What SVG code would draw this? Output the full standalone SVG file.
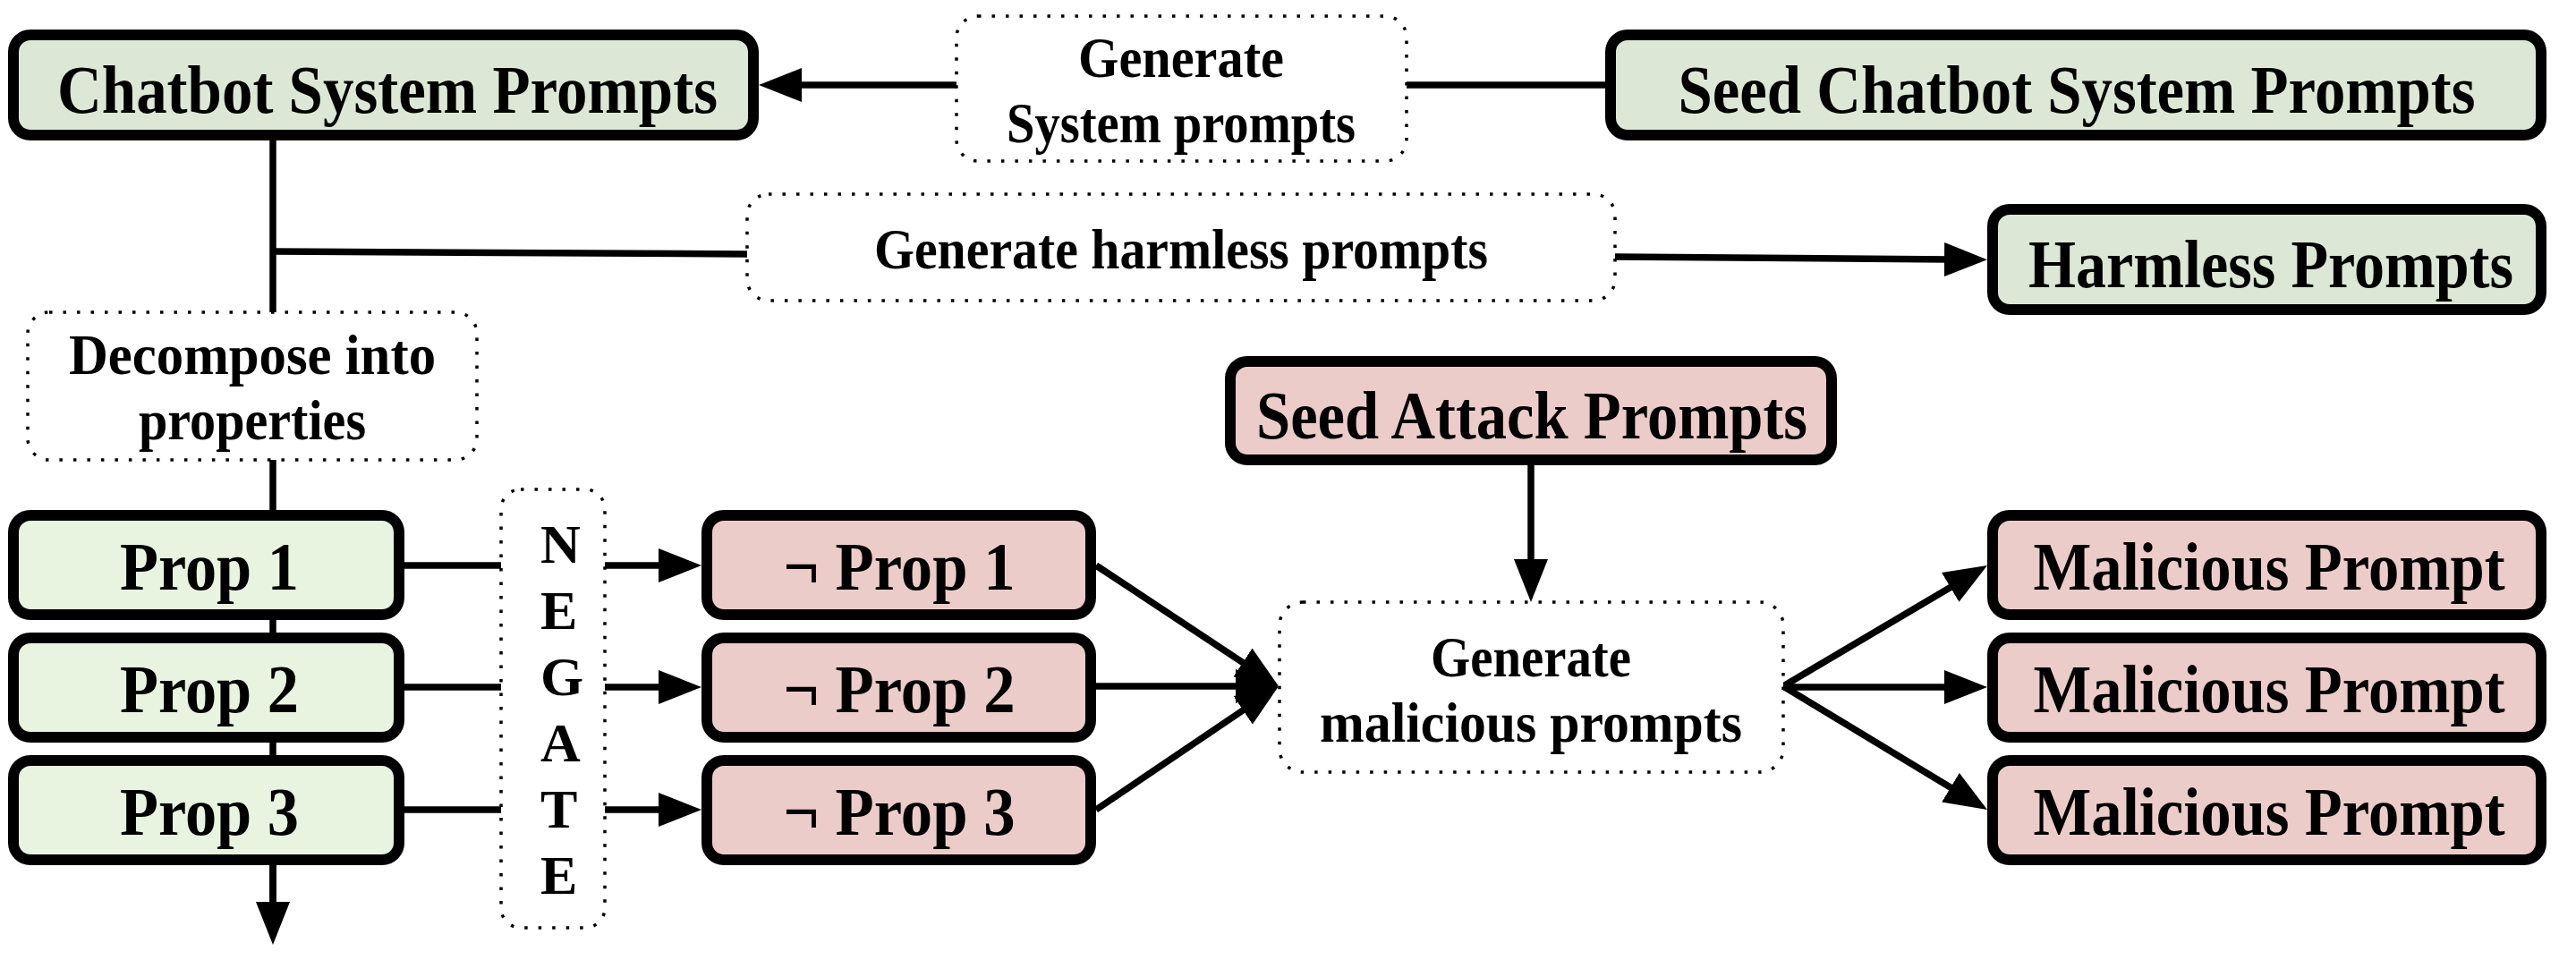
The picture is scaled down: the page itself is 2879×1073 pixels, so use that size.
<svg xmlns="http://www.w3.org/2000/svg" width="2879" height="1073" viewBox="0 0 2879 1073">
<style>
.g1{fill:#dce8d5;stroke:#000;stroke-width:12}
.g2{fill:#e8f4e0;stroke:#000;stroke-width:12}
.pk{fill:#ecccc9;stroke:#000;stroke-width:12}
.dot{fill:#fff;stroke:#000;stroke-width:3.5;stroke-dasharray:3.5 12}
.ln{stroke:#000;stroke-width:7.5;fill:none}
.ar{marker-end:url(#ah)}
text{font-family:"Liberation Serif","Times New Roman",serif;font-weight:bold;fill:#000}
.big{font-size:76px;text-anchor:middle}
.mid{font-size:64px;text-anchor:middle}
.neg{font-size:62px;text-anchor:start}
</style>
<defs>
<marker id="ah" markerUnits="userSpaceOnUse" markerWidth="48" markerHeight="38" viewBox="0 0 48 38" refX="6" refY="19" orient="auto">
<path d="M0,0 L48,19 L0,38 z" fill="#000"/>
</marker>
</defs>
<rect width="2879" height="1073" fill="#fff"/>
<g id="connectors">
<line class="ln ar" x1="1069" y1="95" x2="890" y2="95"/>
<line class="ln" x1="1572" y1="95" x2="1794" y2="95"/>
<line class="ln" x1="305" y1="157" x2="305" y2="1016"/>
<line class="ln ar" x1="305" y1="967" x2="305" y2="1014"/>
<line class="ln" x1="305" y1="281" x2="835" y2="284"/>
<line class="ln ar" x1="1805" y1="287" x2="2179" y2="290"/>
<line class="ln" x1="452" y1="632" x2="560" y2="632"/>
<line class="ln" x1="452" y1="768" x2="560" y2="768"/>
<line class="ln" x1="452" y1="905" x2="560" y2="905"/>
<line class="ln ar" x1="676" y1="632" x2="742" y2="632"/>
<line class="ln ar" x1="676" y1="768" x2="742" y2="768"/>
<line class="ln ar" x1="676" y1="905" x2="742" y2="905"/>
<line class="ln ar" x1="1711" y1="520" x2="1711" y2="631"/>
<line class="ln ar" x1="1225" y1="632" x2="1394" y2="743.8"/>
<line class="ln ar" x1="1225" y1="767" x2="1387" y2="767"/>
<line class="ln ar" x1="1225" y1="905" x2="1394.2" y2="790.5"/>
<line class="ln ar" x1="1993" y1="767" x2="2184.9" y2="653.4"/>
<line class="ln ar" x1="1993" y1="768" x2="2179" y2="768"/>
<line class="ln ar" x1="1993" y1="767" x2="2185.1" y2="883.3"/>
</g>
<g id="chatbot-system-prompts">
<rect class="g1" x="15" y="39" width="827" height="112" rx="19"/>
<text class="big" x="433" y="126" textLength="738" lengthAdjust="spacingAndGlyphs">Chatbot System Prompts</text>
</g>
<g id="generate-system-prompts">
<rect class="dot" x="1069" y="18" width="503" height="162" rx="24"/>
<text class="mid" x="1320" y="86" textLength="230" lengthAdjust="spacingAndGlyphs">Generate</text>
<text class="mid" x="1320" y="159" textLength="390" lengthAdjust="spacingAndGlyphs">System prompts</text>
</g>
<g id="seed-chatbot-system-prompts">
<rect class="g1" x="1800" y="39" width="1040" height="112" rx="19"/>
<text class="big" x="2321" y="126" textLength="891" lengthAdjust="spacingAndGlyphs">Seed Chatbot System Prompts</text>
</g>
<g id="generate-harmless-prompts">
<rect class="dot" x="835" y="217" width="970" height="119" rx="24"/>
<text class="mid" x="1320" y="300" textLength="686" lengthAdjust="spacingAndGlyphs">Generate harmless prompts</text>
</g>
<g id="harmless-prompts">
<rect class="g1" x="2227" y="234" width="613" height="112" rx="19"/>
<text class="big" x="2538" y="321" textLength="542" lengthAdjust="spacingAndGlyphs">Harmless Prompts</text>
</g>
<g id="decompose">
<rect class="dot" x="31" y="349" width="502" height="165" rx="24"/>
<text class="mid" x="282" y="418" textLength="410" lengthAdjust="spacingAndGlyphs">Decompose into</text>
<text class="mid" x="282" y="491" textLength="254" lengthAdjust="spacingAndGlyphs">properties</text>
</g>
<g id="prop-1">
<rect class="g2" x="15" y="576" width="431" height="111" rx="19"/>
<text class="big" x="234" y="659" textLength="200" lengthAdjust="spacingAndGlyphs">Prop 1</text>
</g>
<g id="prop-2">
<rect class="g2" x="15" y="713" width="431" height="111" rx="19"/>
<text class="big" x="234" y="796" textLength="200" lengthAdjust="spacingAndGlyphs">Prop 2</text>
</g>
<g id="prop-3">
<rect class="g2" x="15" y="850" width="431" height="111" rx="19"/>
<text class="big" x="234" y="933" textLength="200" lengthAdjust="spacingAndGlyphs">Prop 3</text>
</g>
<g id="negate">
<rect class="dot" x="560" y="547" width="116" height="490" rx="22"/>
<text class="neg" x="604" y="629">N</text>
<text class="neg" x="604" y="703">E</text>
<text class="neg" x="604" y="777">G</text>
<text class="neg" x="604" y="851">A</text>
<text class="neg" x="604" y="925">T</text>
<text class="neg" x="604" y="999">E</text>
</g>
<g id="not-prop-1">
<rect class="pk" x="790" y="576" width="429" height="111" rx="19"/>
<text class="big" x="1005" y="659" textLength="259" lengthAdjust="spacingAndGlyphs">¬ Prop 1</text>
</g>
<g id="not-prop-2">
<rect class="pk" x="790" y="713" width="429" height="111" rx="19"/>
<text class="big" x="1005" y="796" textLength="259" lengthAdjust="spacingAndGlyphs">¬ Prop 2</text>
</g>
<g id="not-prop-3">
<rect class="pk" x="790" y="850" width="429" height="111" rx="19"/>
<text class="big" x="1005" y="933" textLength="259" lengthAdjust="spacingAndGlyphs">¬ Prop 3</text>
</g>
<g id="seed-attack-prompts">
<rect class="pk" x="1375" y="404" width="672" height="110" rx="19"/>
<text class="big" x="1712" y="490" textLength="616" lengthAdjust="spacingAndGlyphs">Seed Attack Prompts</text>
</g>
<g id="generate-malicious-prompts">
<rect class="dot" x="1430" y="673" width="563" height="190" rx="26"/>
<text class="mid" x="1711" y="756" textLength="224" lengthAdjust="spacingAndGlyphs">Generate</text>
<text class="mid" x="1711" y="829" textLength="472" lengthAdjust="spacingAndGlyphs">malicious prompts</text>
</g>
<g id="malicious-prompt-1">
<rect class="pk" x="2227" y="576" width="613" height="111" rx="19"/>
<text class="big" x="2536" y="659" textLength="527" lengthAdjust="spacingAndGlyphs">Malicious Prompt</text>
</g>
<g id="malicious-prompt-2">
<rect class="pk" x="2227" y="713" width="613" height="111" rx="19"/>
<text class="big" x="2536" y="796" textLength="527" lengthAdjust="spacingAndGlyphs">Malicious Prompt</text>
</g>
<g id="malicious-prompt-3">
<rect class="pk" x="2227" y="850" width="613" height="111" rx="19"/>
<text class="big" x="2536" y="933" textLength="527" lengthAdjust="spacingAndGlyphs">Malicious Prompt</text>
</g>
</svg>
